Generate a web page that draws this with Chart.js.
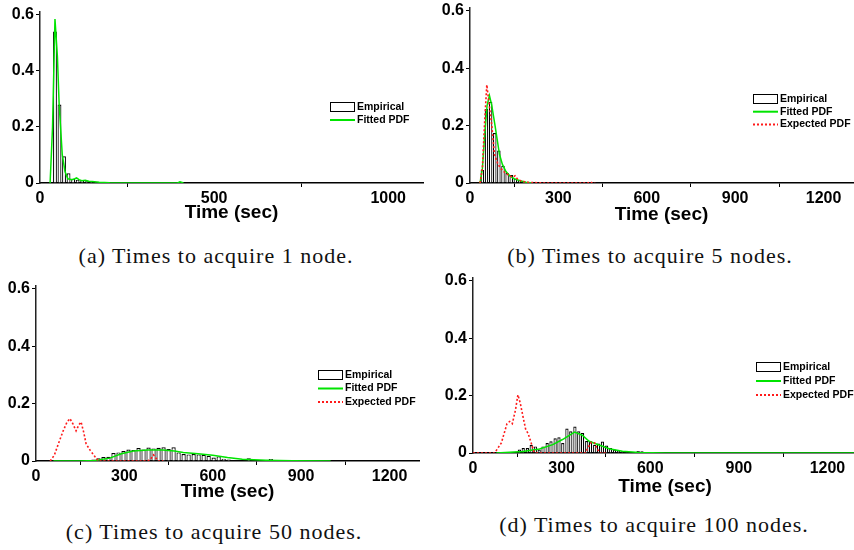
<!DOCTYPE html>
<html>
<head>
<meta charset="utf-8">
<script src="https://cdn.jsdelivr.net/npm/chart.js@4.4.1/dist/chart.umd.min.js"></script>
<style>
  html, body { margin: 0; padding: 0; background: #fff; }
  body { width: 854px; height: 550px; position: relative; overflow: hidden; }
  canvas { position: absolute; }
  .caption {
    position: absolute; width: 400px; text-align: center; white-space: nowrap;
    font-family: "Liberation Serif", "Times New Roman", serif; font-size: 22px;
    letter-spacing: 1px; line-height: 24px; color: #111;
  }
</style>
</head>
<body>
<canvas id="chart-a" width="430" height="224" style="left:0;top:0"></canvas>
<canvas id="chart-b" width="424" height="226" style="left:430px;top:0"></canvas>
<canvas id="chart-c" width="430" height="233" style="left:0;top:270px"></canvas>
<canvas id="chart-d" width="440" height="228" style="left:430px;top:270px"></canvas>
<div class="caption" style="left:16px;top:244px">(a) Times to acquire 1 node.</div>
<div class="caption" style="left:450px;top:244px">(b) Times to acquire 5 nodes.</div>
<div class="caption" style="left:14px;top:520px">(c) Times to acquire 50 nodes.</div>
<div class="caption" style="left:454px;top:513px">(d) Times to acquire 100 nodes.</div>
<script>
const FONT = '"Liberation Sans", Arial, Helvetica, sans-serif';
const GREEN = "#00e400";
const RED = "#ff1a1a";

const Y_TICKS = [0, 0.2, 0.4, 0.6];
const A_X_TICKS = [0, 500, 1000];
const X_TICKS = [0, 300, 600, 900, 1200];

// (a) 1 node
const A_BIN_X = [43, 56, 69, 82, 95, 108, 121, 134, 147, 160, 173, 186, 199];
const A_EMPIRICAL = [0.54, 0.28, 0.095, 0.035, 0.015, 0.012, 0.01, 0.006, 0.005, 0.004, 0.003, 0.002, 0.002];
const A_FIT_X = [29, 36, 43, 50, 55, 64, 72, 80, 92, 100, 105, 112, 120, 130, 140, 150, 170, 200, 300, 395, 402, 408, 412];
const A_FIT_Y = [0, 0.2, 0.585, 0.45, 0.28, 0.1, 0.04, 0.015, 0.012, 0.015, 0.018, 0.012, 0.008, 0.01, 0.006, 0.005, 0.003, 0.001, 0, 0, 0.004, 0.002, 0];

// (b) 5 nodes
const B_BIN_X = [42, 56, 70, 84, 98, 112, 126, 140, 154, 168, 182, 196];
const B_EMPIRICAL = [0.045, 0.258, 0.283, 0.174, 0.113, 0.06, 0.035, 0.028, 0.015, 0.01, 0.005, 0.003];
const B_FIT_X = [34, 42, 50, 58, 66, 74, 85, 100, 110, 122, 135, 150, 170, 190, 210];
const B_FIT_Y = [0, 0.05, 0.17, 0.27, 0.305, 0.27, 0.2, 0.1, 0.065, 0.04, 0.025, 0.015, 0.008, 0.003, 0];
const B_EXP_X = [34, 42, 50, 57, 62, 68, 74, 83, 95, 105, 120, 135, 145, 153, 160, 175, 200, 250, 400, 408, 415, 425];
const B_EXP_Y = [0, 0.05, 0.22, 0.342, 0.3, 0.25, 0.2, 0.1, 0.065, 0.05, 0.035, 0.025, 0.02, 0.025, 0.015, 0.006, 0.002, 0, 0, 0.004, 0, 0];

// (c) 50 nodes
const C_BIN_X = [195, 212, 229, 246, 263, 280, 297, 314, 331, 348, 365, 382, 399, 416, 433, 450, 467, 484,
                 501, 518, 535, 552, 569, 586, 603, 620, 637, 654, 722, 797, 852, 886];
const C_EMPIRICAL = [0.005, 0.01, 0.014, 0.015, 0.028, 0.03, 0.035, 0.04, 0.038, 0.045, 0.04, 0.047, 0.044, 0.046, 0.048, 0.042, 0.048, 0.03,
                     0.024, 0.023, 0.024, 0.023, 0.022, 0.018, 0.012, 0.016, 0.008, 0.005, 0.01, 0.007, 0.003, 0.003];
const C_FIT_X = [59, 150, 200, 250, 290, 330, 380, 430, 470, 500, 550, 600, 650, 700, 780, 870, 1000];
const C_FIT_Y = [0, 0, 0.002, 0.01, 0.025, 0.035, 0.038, 0.038, 0.035, 0.03, 0.025, 0.02, 0.012, 0.006, 0.003, 0.001, 0];
const C_EXP_X = [48, 62, 76, 93, 105, 115, 125, 136, 145, 153, 162, 170, 184, 201, 212, 300, 380, 390, 399, 407, 415, 432];
const C_EXP_Y = [0, 0.02, 0.06, 0.107, 0.135, 0.148, 0.13, 0.105, 0.125, 0.136, 0.1, 0.06, 0.037, 0.014, 0, 0, 0, 0.008, 0.021, 0.01, 0, 0];

// (d) 100 nodes
const D_BIN_X = [157, 170, 184, 197, 211, 224, 237, 251, 264, 278, 291, 304, 318, 331, 345, 358, 371, 385,
                 398, 412, 425, 438, 452, 465, 479, 492, 505, 519, 532, 559, 572];
const D_EMPIRICAL = [0.012, 0.017, 0.017, 0.028, 0.023, 0.012, 0.023, 0.035, 0.041, 0.051, 0.055, 0.035, 0.085, 0.076, 0.092, 0.076, 0.07, 0.042,
                     0.041, 0.029, 0.033, 0.04, 0.026, 0.017, 0.012, 0.008, 0.006, 0.003, 0.003, 0.007, 0.006];
const D_FIT_X = [79, 169, 225, 270, 303, 344, 370, 393, 427, 461, 506, 560, 650, 800, 1000, 1300];
const D_FIT_Y = [0, 0.005, 0.014, 0.029, 0.047, 0.073, 0.062, 0.041, 0.028, 0.015, 0.006, 0.002, 0, 0, 0, 0];
const D_EXP_X = [0, 73, 96, 115, 124, 133, 144, 152, 160, 169, 178, 187, 197, 206, 213, 300, 380, 390, 400, 412, 420, 430, 450];
const D_EXP_Y = [0, 0, 0.035, 0.102, 0.11, 0.102, 0.151, 0.203, 0.174, 0.128, 0.084, 0.067, 0.035, 0.006, 0, 0, 0, 0.02, 0.037, 0.035, 0.015, 0, 0];

const Y_MAX = 0.61;

// legend drawn at a fixed spot inside the plot, like the original figure
const boxLegend = {
  id: "boxLegend",
  afterDraw(chart, args, opts) {
    const { ctx } = chart;
    ctx.save();
    ctx.font = `bold 10.5px ${FONT}`;
    ctx.textBaseline = "middle";
    chart.data.datasets.forEach((ds, i) => {
      const x = opts.x;
      const y = opts.y + i * opts.gap;
      if (ds.type === "line") {
        ctx.beginPath();
        ctx.setLineDash(ds.borderDash || []);
        ctx.strokeStyle = ds.borderColor;
        ctx.lineWidth = 2;
        ctx.moveTo(x, y);
        ctx.lineTo(x + 25, y);
        ctx.stroke();
        ctx.setLineDash([]);
      } else {
        ctx.fillStyle = "#fff";
        ctx.fillRect(x, y - 4.5, 24, 9);
        ctx.strokeStyle = "#000";
        ctx.lineWidth = 1;
        ctx.strokeRect(x + 0.5, y - 4.5, 24, 9);
      }
      ctx.fillStyle = "#000";
      ctx.fillText(ds.label, x + 27, y);
    });
    ctx.restore();
  },
};

function pts(xs, ys) {
  return xs.map((x, i) => ({ x, y: ys[i] }));
}

function lineDataset(label, xs, ys, color, dash, order) {
  return {
    type: "line",
    label,
    data: pts(xs, ys),
    borderColor: color,
    borderWidth: dash ? 1.6 : 1.5,
    borderDash: dash || [],
    pointRadius: 0,
    tension: 0,
    fill: false,
    order,
  };
}

function makePanel(id, p) {
  const datasets = [
    {
      label: "Empirical",
      data: pts(p.bins, p.empirical),
      backgroundColor: "#fff",
      borderColor: "#000",
      borderWidth: 1.2,
      barPercentage: 0.85,
      categoryPercentage: 1,
      order: 3,
    },
    lineDataset("Fitted PDF", p.fitX, p.fitY, GREEN, null, 2),
  ];
  if (p.expX) datasets.push(lineDataset("Expected PDF", p.expX, p.expY, RED, [2, 2], 1));

  const tickFont = { family: FONT, size: 16, weight: "bold" };
  return new Chart(document.getElementById(id), {
    type: "bar",
    data: { datasets },
    plugins: [boxLegend],
    options: {
      responsive: false,
      devicePixelRatio: 1,
      animation: false,
      layout: { padding: { top: p.top, right: p.right, left: 0, bottom: 0 } },
      scales: {
        x: {
          type: "linear",
          offset: false,
          min: 0,
          max: p.xMax,
          border: { color: "#000", width: 1.5 },
          grid: { drawOnChartArea: false, drawTicks: true, tickLength: 4, color: "#000" },
          ticks: { maxRotation: 0, autoSkip: false, color: "#000", font: tickFont, padding: 2,
                   callback: (v) => String(v) },
          afterBuildTicks: (s) => { s.ticks = p.xTicks.map((v) => ({ value: v })); },
          title: { display: true, text: "Time (sec)", color: "#000", padding: 0,
                   font: { family: FONT, size: 19, weight: "bold" } },
          afterFit: (s) => { s.height = p.xHeight; s.paddingLeft = 0; s.paddingRight = 0; },
        },
        y: {
          min: 0,
          max: Y_MAX,
          border: { color: "#222", width: 1.5 },
          grid: { drawOnChartArea: false, drawTicks: true, tickLength: 4, color: "#000" },
          ticks: { color: "#000", font: tickFont, padding: 2,
                   callback: (v) => (v === 0 ? "0" : v.toFixed(1)) },
          afterBuildTicks: (s) => { s.ticks = Y_TICKS.map((v) => ({ value: v })); },
          afterFit: (s) => { s.width = p.yWidth; s.paddingTop = 0; s.paddingBottom = 0; },
        },
      },
      plugins: {
        legend: { display: false },
        tooltip: { enabled: false },
        boxLegend: p.legend,
      },
    },
  });
}

makePanel("chart-a", {
  bins: A_BIN_X, empirical: A_EMPIRICAL, fitX: A_FIT_X, fitY: A_FIT_Y, xTicks: A_X_TICKS,
  xMax: 1100, yWidth: 40, xHeight: 41, top: 12, right: 7,
  legend: { x: 330, y: 107, gap: 13 },
});
makePanel("chart-b", {
  bins: B_BIN_X, empirical: B_EMPIRICAL, fitX: B_FIT_X, fitY: B_FIT_Y, expX: B_EXP_X, expY: B_EXP_Y,
  xTicks: X_TICKS, xMax: 1300, yWidth: 40, xHeight: 43, top: 8, right: 1,
  legend: { x: 323, y: 99, gap: 12.7 },
});
makePanel("chart-c", {
  bins: C_BIN_X, empirical: C_EMPIRICAL, fitX: C_FIT_X, fitY: C_FIT_Y, expX: C_EXP_X, expY: C_EXP_Y,
  xTicks: X_TICKS, xMax: 1300, yWidth: 36, xHeight: 42, top: 16, right: 11,
  legend: { x: 318, y: 105, gap: 13.5 },
});
makePanel("chart-d", {
  bins: D_BIN_X, empirical: D_EMPIRICAL, fitX: D_FIT_X, fitY: D_FIT_Y, expX: D_EXP_X, expY: D_EXP_Y,
  xTicks: X_TICKS, xMax: 1300, yWidth: 43, xHeight: 45, top: 8, right: 13,
  legend: { x: 326, y: 97, gap: 14 },
});
</script>
</body>
</html>
